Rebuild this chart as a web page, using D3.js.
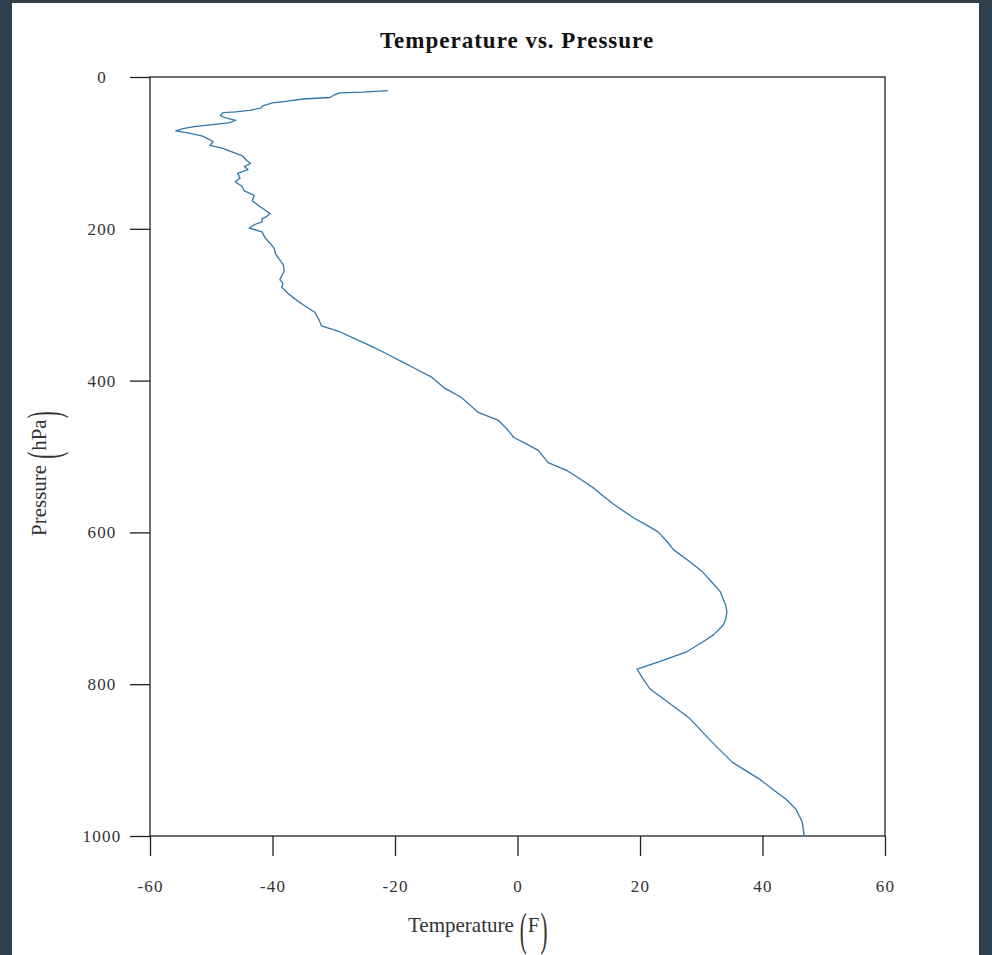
<html>
<head>
<title>Temperature vs. Pressure</title>
<style>
	body {
		margin: 0;
		padding: 0;
		background: #2f3f4b;
		font-family: "Liberation Serif", "DejaVu Serif", serif;
	}
	svg { display: block; }
	.tick line { stroke: #222; stroke-width: 1.3; }
	.tick text { fill: #333; font-size: 17px; letter-spacing: 1.2px; font-family: "Liberation Serif", serif; }
</style>
</head>
<body>

<svg width="992" height="955"></svg>

<script src="https://d3js.org/d3.v7.min.js"></script>
<script>

	// sounding (hPa, deg F)
	var pressure = [18, 20, 21, 24, 27, 29, 32, 34, 38, 41, 44, 46, 47, 51, 54, 57, 60, 62, 65, 68,
		71, 74, 78, 85, 90, 94, 100, 104, 110, 114, 118, 122, 127, 133, 138, 144, 150, 156, 163, 170,
		175, 180, 184, 187, 191, 194, 199, 204, 212, 220, 226, 233, 240, 248, 256, 262, 267, 272, 277, 285,
		292, 300, 310, 320, 328, 335, 345, 355, 365, 375, 385, 395, 410, 422, 432, 442, 452, 463, 475, 484,
		492, 508, 519, 530, 542, 552, 563, 581, 590, 599, 611, 623, 639, 652, 668, 678, 688, 696, 705, 714,
		722, 735, 744, 757, 770, 780, 793, 806, 825, 845, 875, 903, 925, 938, 952, 965, 982, 1000];
	var temperature = [-21.2, -25.2, -29.0, -30.0, -30.6, -35.0, -37.8, -40.0, -41.6, -41.9, -43.8, -46.0, -48.1, -48.5, -47.6, -46.0, -47.0, -49.0, -52.5, -54.6,
		-55.8, -53.6, -51.4, -49.7, -50.2, -48.1, -46.2, -44.9, -44.2, -43.6, -44.6, -44.0, -45.7, -45.3, -46.1, -45.0, -44.6, -43.0, -43.3, -42.2,
		-41.3, -40.4, -41.0, -41.7, -41.7, -42.8, -43.8, -41.7, -41.2, -40.3, -39.7, -39.5, -38.9, -38.2, -38.1, -38.5, -38.8, -38.3, -38.5, -37.5,
		-36.4, -35.0, -33.1, -32.4, -32.0, -29.2, -26.5, -23.8, -21.3, -18.9, -16.5, -14.1, -11.9, -9.2, -7.8, -6.4, -3.2, -1.8, -0.6, 1.6,
		3.4, 5.0, 8.2, 10.3, 12.5, 14.0, 15.7, 19.0, 21.0, 22.9, 24.3, 25.5, 28.2, 30.2, 32.0, 33.1, 33.6, 34.0, 34.2, 34.0,
		33.6, 32.0, 30.3, 27.7, 23.3, 19.5, 20.5, 21.6, 24.8, 28.1, 31.6, 35.1, 39.5, 41.6, 43.9, 45.5, 46.5, 46.8];

	var xTicks = [-60, -40, -20, 0, 20, 40, 60];
	var yTicks = [0, 200, 400, 600, 800, 1000];

	var svg = d3.select("svg");

	// white sheet
	svg.append("rect")
		.attr("x", 12).attr("y", 3)
		.attr("width", 967).attr("height", 952)
		.attr("fill", "#fff");

	var plotLeft = 150, plotRight = 885, plotTop = 77, plotBottom = 836;

	var x = d3.scaleLinear().domain([-60, 60]).range([plotLeft, plotRight]);
	var y = d3.scaleLinear().domain([0, 1000]).range([plotTop, plotBottom]);

	// frame
	svg.append("rect")
		.attr("x", plotLeft).attr("y", plotTop)
		.attr("width", plotRight - plotLeft).attr("height", plotBottom - plotTop)
		.attr("fill", "none")
		.attr("stroke", "#222")
		.attr("stroke-width", 1.3);

	var yAxis = svg.append("g")
		.attr("transform", "translate(" + plotLeft + ",0)")
		.call(d3.axisLeft(y).tickValues(yTicks).tickSize(20).tickSizeOuter(0).tickFormat(function(d) { return String(d); }));
	yAxis.select(".domain").remove();
	yAxis.selectAll(".tick text")
		.attr("text-anchor", "middle")
		.attr("x", -48)
		.attr("dy", "0.32em");

	var xAxis = svg.append("g")
		.attr("transform", "translate(0," + plotBottom + ")")
		.call(d3.axisBottom(x).tickValues(xTicks).tickSize(20).tickSizeOuter(0).tickFormat(function(d) { return String(d); }));
	xAxis.select(".domain").remove();
	xAxis.selectAll(".tick text")
		.attr("y", 56)
		.attr("dy", 0);

	// the profile
	var pts = pressure.map(function(p, i) { return [temperature[i], p]; });
	var line = d3.line()
		.x(function(d) { return x(d[0]); })
		.y(function(d) { return y(d[1]); });

	svg.append("path")
		.datum(pts)
		.attr("d", line)
		.attr("fill", "none")
		.attr("stroke", "#2f78ab")
		.attr("stroke-width", 1.3)
		.attr("stroke-linejoin", "round");

	// title
	svg.append("text")
		.attr("x", 517)
		.attr("y", 48)
		.attr("text-anchor", "middle")
		.attr("font-weight", "bold")
		.attr("font-size", 23)
		.attr("letter-spacing", 1)
		.attr("fill", "#111")
		.text("Temperature vs. Pressure");

	// axis label with tall parentheses, laid out from its left edge
	function parenLabel(g, word, unit) {
		var fs = 21;
		var t1 = g.append("text").attr("font-size", fs).attr("fill", "#333").text(word);
		var w1 = t1.node().getComputedTextLength() + 6;
		var p1 = g.append("text").attr("font-size", fs).attr("fill", "#333")
			.attr("transform", "translate(" + w1 + ",13) scale(1,2.2)").text("(");
		var pw = p1.node().getComputedTextLength();
		var t2 = g.append("text").attr("font-size", fs).attr("fill", "#333")
			.attr("x", w1 + pw + 1).text(unit);
		var w2 = t2.node().getComputedTextLength();
		g.append("text").attr("font-size", fs).attr("fill", "#333")
			.attr("transform", "translate(" + (w1 + pw + w2 + 2) + ",13) scale(1,2.2)").text(")");
	}

	parenLabel(svg.append("g").attr("transform", "translate(408,932)"), "Temperature", "F");
	parenLabel(svg.append("g").attr("transform", "translate(46,536) rotate(-90)"), "Pressure", "hPa");

</script>
</body>
</html>
